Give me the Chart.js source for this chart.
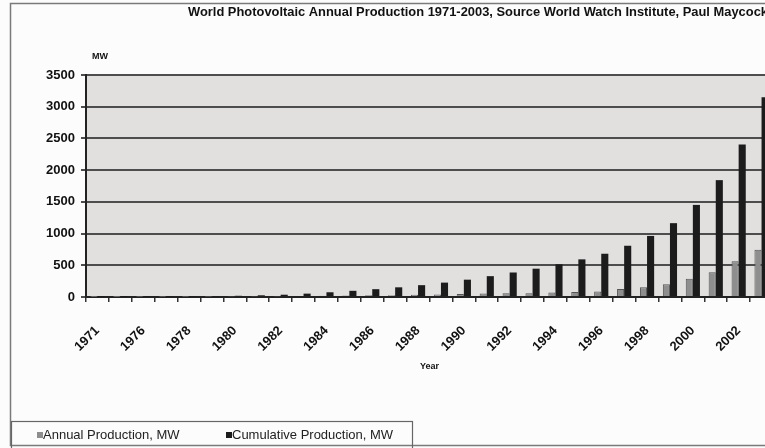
<!DOCTYPE html>
<html>
<head>
<meta charset="utf-8">
<script src="https://cdn.jsdelivr.net/npm/chart.js@4.4.1/dist/chart.umd.min.js"></script>
<style>
html, body { margin: 0; padding: 0; background: #fcfcfc; overflow: hidden; width: 765px; height: 448px; }
#wrap { position: absolute; left: 0; top: 0; width: 800px; height: 448px; }
canvas { display: block; }
</style>
</head>
<body>
<div id="wrap"><canvas id="c" width="800" height="448"></canvas></div>
<script>
// ---- data ----
const categories = ['1971','1975','1976','1977','1978','1979','1980','1981','1982','1983',
  '1984','1985','1986','1987','1988','1989','1990','1991','1992','1993',
  '1994','1995','1996','1997','1998','1999','2000','2001','2002','2003'];
const annualProduction = [0.1, 1.8, 2.0, 2.2, 2.5, 4.0, 6.5, 7.8, 9.1, 17.2,
  21.5, 22.8, 26.0, 29.2, 33.8, 40.2, 46.5, 55.3, 57.9, 60.1,
  69.4, 77.6, 88.6, 125.8, 154.9, 201.3, 287.7, 390.5, 561.8, 744.1];
const cumulativeProduction = [0.1, 1.9, 3.9, 6.1, 8.6, 12.6, 19.1, 26.9, 36.0, 53.2,
  74.7, 97.5, 123.5, 152.7, 186.5, 226.7, 273.2, 328.5, 386.4, 446.5,
  515.9, 593.5, 682.1, 807.9, 962.8, 1164.1, 1451.8, 1842.3, 2404.1, 3148.2];
const yTickValues = [0, 500, 1000, 1500, 2000, 2500, 3000, 3500];
const seriesNames = ['Annual Production, MW', 'Cumulative Production, MW'];
const chartTitle = 'World Photovoltaic Annual Production 1971-2003, Source World Watch Institute, Paul Maycock';
const yUnit = 'MW';
const xTitle = 'Year';

const FONT = '"Liberation Sans", Arial, sans-serif';

const decor = {
  id: 'decor',
  beforeDraw(chart) {
    const {ctx, chartArea: a} = chart;
    ctx.save();
    ctx.fillStyle = '#e2dfdf';
    ctx.fillRect(a.left, a.top, a.right - a.left, a.bottom - a.top);
    ctx.restore();
  },
  afterDraw(chart) {
    const ctx = chart.ctx;
    ctx.save();
    // outer frame
    ctx.strokeStyle = '#7a7a7a';
    ctx.lineWidth = 1.5;
    ctx.strokeRect(10.5, 3.5, 900, 442);
    // title
    ctx.fillStyle = '#111';
    ctx.font = 'bold 13px ' + FONT;
    ctx.textAlign = 'left';
    ctx.textBaseline = 'middle';
    ctx.fillText(chartTitle, 188, 12, 580);
    // unit label
    ctx.font = 'bold 9px ' + FONT;
    ctx.fillText(yUnit, 92, 57);
    // legend box
    ctx.strokeStyle = '#666';
    ctx.lineWidth = 1.2;
    ctx.strokeRect(11.5, 421.5, 401, 30);
    ctx.font = '13px ' + FONT;
    const xs = [37, 226];
    chart.data.datasets.forEach((ds, i) => {
      ctx.fillStyle = ds.backgroundColor;
      ctx.fillRect(xs[i], 432, 6, 6);
      ctx.fillStyle = '#222';
      ctx.fillText(ds.label, xs[i] + 6, 435.5);
    });
    ctx.restore();
  }
};

new Chart(document.getElementById('c'), {
  type: 'bar',
  data: {
    labels: categories,
    datasets: [
      { label: seriesNames[0], data: annualProduction, backgroundColor: '#8e8e8e', borderColor: '#555', borderWidth: 1 },
      { label: seriesNames[1], data: cumulativeProduction, backgroundColor: '#1c1c1c', borderColor: '#111', borderWidth: 0 }
    ]
  },
  options: {
    responsive: false,
    devicePixelRatio: 1,
    animation: false,
    datasets: { bar: { categoryPercentage: 0.62, barPercentage: 1.0 } },
    layout: { padding: { top: 75, right: 27, bottom: 71, left: 0 } },
    plugins: {
      legend: { display: false },
      title: { display: false },
      tooltip: { enabled: false }
    },
    scales: {
      x: {
        afterFit(scale) { scale.height = 80; },
        grid: { offset: true, drawOnChartArea: false, drawTicks: true, tickLength: 5, color: '#333', lineWidth: 1.5 },
        border: { display: true, color: '#222', width: 2 },
        ticks: {
          autoSkip: false, maxRotation: 45, minRotation: 45, padding: 21,
          color: '#111', font: { family: FONT, size: 13, weight: 'bold' },
          callback: (v, i) => (i % 2 === 0 ? categories[i] : '')
        },
        title: { display: true, text: xTitle, color: '#111', font: { family: FONT, size: 9, weight: 'bold' }, padding: { top: 0, bottom: 5 } }
      },
      y: {
        min: 0, max: 3500,
        afterFit(scale) { scale.width = 86; },
        afterBuildTicks(scale) { scale.ticks = yTickValues.map(v => ({ value: v })); },
        grid: { color: '#4d4d4d', lineWidth: 2, drawTicks: true, tickLength: 5 },
        border: { display: true, color: '#222', width: 2 },
        ticks: { padding: 6, color: '#111', font: { family: FONT, size: 13, weight: 'bold' }, callback: (v) => String(v) }
      }
    }
  },
  plugins: [decor]
});
</script>
</body>
</html>
